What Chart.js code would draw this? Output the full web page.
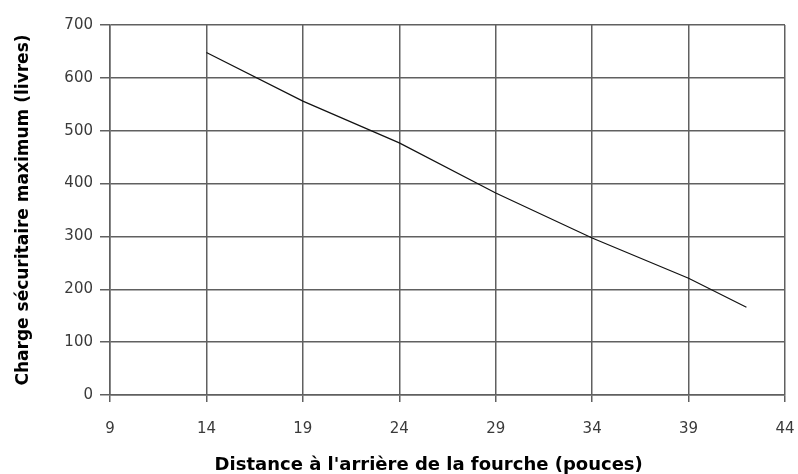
<!DOCTYPE html>
<html>
<head>
<meta charset="utf-8">
<script src="https://cdn.jsdelivr.net/npm/chart.js@4/dist/chart.umd.min.js"></script>
<style>
  html, body { margin: 0; padding: 0; background: #fff; }
  #wrap { width: 798px; height: 474px; }
</style>
</head>
<body>
<div id="wrap"><canvas id="loadChart" width="798" height="474"></canvas></div>
<script>
// distance (pouces) and max safe load (livres)
const distances = [14, 19, 24, 29, 34, 39, 42];
const loads = [648, 556, 477, 382, 297, 221, 166];

// trailing spaces nudge the centred title a little left, as in the original
const xTitle = "Distance à l'arrière de la fourche (pouces)" + '\u00a0'.repeat(6);
const yTitle = 'Charge sécuritaire maximum (livres)';

const gridColor = '#606060';
const tickFont = { family: 'DejaVu Sans', size: 15 };

const points = distances.map((d, i) => ({ x: d, y: loads[i] }));

const ctx = document.getElementById('loadChart').getContext('2d');
const loadChart = new Chart(ctx, {
    type: 'line',
    data: {
        datasets: [{
            data: points,
            borderColor: '#111',
            borderWidth: 1.2,
            pointRadius: 0,
            tension: 0,
            fill: false
        }]
    },
    options: {
        responsive: false,
        animation: false,
        layout: { padding: { top: 25, right: 13, left: 0, bottom: 0 } },
        plugins: { legend: { display: false }, tooltip: { enabled: false } },
        scales: {
            x: {
                type: 'linear',
                min: 9,
                max: 44,
                ticks: { stepSize: 5, color: '#3a3a3a', font: tickFont, padding: 18 },
                grid: { color: gridColor, tickLength: 7, lineWidth: 1.5 },
                border: { color: gridColor, width: 1.5 },
                title: {
                    display: true, text: xTitle, color: '#000',
                    font: { family: 'DejaVu Sans', size: 18, weight: 'bold', lineHeight: 1 },
                    padding: { top: 0, bottom: 0 }
                },
                afterFit: scale => {
                    scale.height = 79;
                    scale.paddingLeft = 0;
                    scale.paddingRight = 0;
                }
            },
            y: {
                min: 0,
                max: 700,
                ticks: { stepSize: 100, color: '#3a3a3a', font: tickFont, padding: 7 },
                grid: { color: gridColor, tickLength: 10, lineWidth: 1.5 },
                border: { color: gridColor, width: 1.5 },
                title: {
                    display: true, text: yTitle, color: '#000',
                    font: { family: 'DejaVu Sans', size: 17, weight: 'bold', lineHeight: 1 },
                    padding: { top: 15, bottom: 0 }
                },
                afterFit: scale => { scale.width = 110; }
            }
        }
    }
});
</script>
</body>
</html>
